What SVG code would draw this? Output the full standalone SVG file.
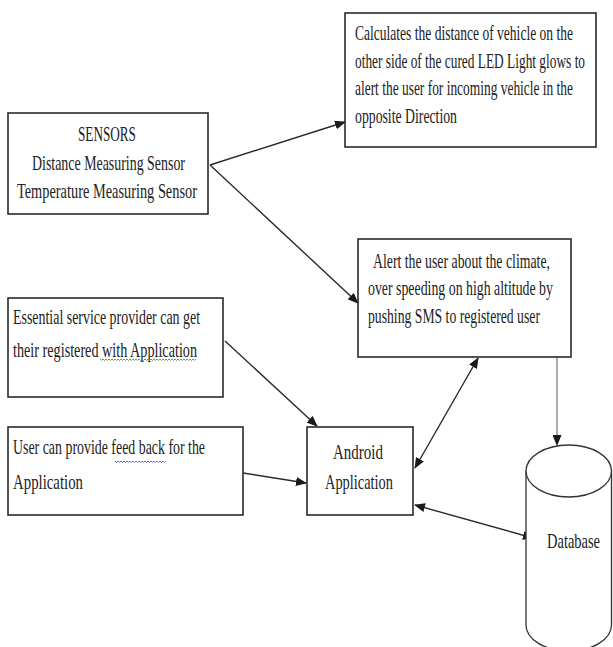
<svg xmlns="http://www.w3.org/2000/svg" width="613" height="647" viewBox="0 0 613 647">
<style>
.box{fill:#fff;stroke:#2a2a2a;stroke-width:1.6}
.t{font-family:"Liberation Serif","Times New Roman",serif;font-size:20px;fill:#222}
.c{fill:none;stroke:#2a2a2a;stroke-width:1.4}
.g{fill:none;stroke:#777;stroke-width:1.2}
.cyl{fill:#fff;stroke:#333;stroke-width:1.3}
</style>
<defs>
<marker id="ah" markerUnits="userSpaceOnUse" markerWidth="11" markerHeight="9" refX="10" refY="4.5" orient="auto-start-reverse" viewBox="0 0 11 9">
<path d="M0,0 L11,4.5 L0,9 z" fill="#1a1a1a"/>
</marker>
</defs>
<rect width="613" height="647" fill="#fff"/>
<g id="connectors">
<line class="c" x1="210" y1="165" x2="345" y2="122" marker-end="url(#ah)"/>
<line class="c" x1="210" y1="165" x2="358" y2="303" marker-end="url(#ah)"/>
<line class="c" x1="225" y1="341" x2="317" y2="426" marker-end="url(#ah)"/>
<line class="c" x1="243" y1="473" x2="306" y2="483" marker-end="url(#ah)"/>
<line class="c" x1="415" y1="468" x2="478" y2="358" marker-start="url(#ah)" marker-end="url(#ah)"/>
<line class="c" x1="415" y1="505" x2="533" y2="538" marker-start="url(#ah)" marker-end="url(#ah)"/>
<line class="g" x1="557" y1="357" x2="557" y2="445" marker-end="url(#ah)"/>
</g>
<g id="node-led">
<rect class="box" x="345" y="13" width="251" height="134"/>
<text class="t" transform="scale(0.62,1)" x="572.6" y="40" textLength="351.6" lengthAdjust="spacingAndGlyphs">Calculates the distance of vehicle on the</text>
<text class="t" transform="scale(0.62,1)" x="572.6" y="68" textLength="371" lengthAdjust="spacingAndGlyphs">other side of the cured LED Light glows to</text>
<text class="t" transform="scale(0.62,1)" x="572.6" y="95" textLength="351.6" lengthAdjust="spacingAndGlyphs">alert the user for incoming vehicle in the</text>
<text class="t" transform="scale(0.62,1)" x="572.6" y="123" textLength="164.5" lengthAdjust="spacingAndGlyphs">opposite Direction</text>
</g>
<g id="node-sensors">
<rect class="box" x="8" y="113" width="200" height="101"/>
<text class="t" transform="scale(0.62,1)" x="125.8" y="141" textLength="93.5" lengthAdjust="spacingAndGlyphs">SENSORS</text>
<text class="t" transform="scale(0.62,1)" x="51.6" y="170" textLength="246.8" lengthAdjust="spacingAndGlyphs">Distance Measuring Sensor</text>
<text class="t" transform="scale(0.62,1)" x="27.4" y="198" textLength="290.3" lengthAdjust="spacingAndGlyphs">Temperature Measuring Sensor</text>
</g>
<g id="node-alert">
<rect class="box" x="358" y="239" width="213" height="118"/>
<text class="t" transform="scale(0.62,1)" x="601.6" y="268" textLength="285.5" lengthAdjust="spacingAndGlyphs">Alert the user about the climate,</text>
<text class="t" transform="scale(0.62,1)" x="593.5" y="295" textLength="298.4" lengthAdjust="spacingAndGlyphs">over speeding on high altitude by</text>
<text class="t" transform="scale(0.62,1)" x="593.5" y="323" textLength="277.4" lengthAdjust="spacingAndGlyphs">pushing SMS to registered user</text>
</g>
<g id="node-essential">
<rect class="box" x="8" y="298" width="215" height="99"/>
<text class="t" transform="scale(0.62,1)" x="21" y="324" textLength="301.6" lengthAdjust="spacingAndGlyphs">Essential service provider can get</text>
<text class="t" transform="scale(0.62,1)" x="21" y="357" textLength="296.8" lengthAdjust="spacingAndGlyphs">their registered with  Application</text>
<path d="M100,359 l1.5,1.5 l1.5,-1.5 l1.5,1.5 l1.5,-1.5 l1.5,1.5 l1.5,-1.5 l1.5,1.5 l1.5,-1.5 l1.5,1.5 l1.5,-1.5 l1.5,1.5 l1.5,-1.5 l1.5,1.5 l1.5,-1.5 l1.5,1.5 l1.5,-1.5 l1.5,1.5 l1.5,-1.5 l1.5,1.5 l1.5,-1.5 l1.5,1.5 l1.5,-1.5 l1.5,1.5 l1.5,-1.5 l1.5,1.5 l1.5,-1.5 l1.5,1.5 l1.5,-1.5 l1.5,1.5 l1.5,-1.5 l1.5,1.5 l1.5,-1.5 l1.5,1.5 l1.5,-1.5 l1.5,1.5 l1.5,-1.5 l1.5,1.5 l1.5,-1.5 l1.5,1.5 l1.5,-1.5 l1.5,1.5 l1.5,-1.5 l1.5,1.5 l1.5,-1.5 l1.5,1.5 l1.5,-1.5 l1.5,1.5 l1.5,-1.5 l1.5,1.5 l1.5,-1.5 l1.5,1.5 l1.5,-1.5 l1.5,1.5 l1.5,-1.5 l1.5,1.5 l1.5,-1.5 l1.5,1.5 l1.5,-1.5 l1.5,1.5 l1.5,-1.5 l1.5,1.5 l1.5,-1.5 l1.5,1.5 l1.5,-1.5" fill="none" stroke="#4a9a4a" stroke-width="0.9"/>
</g>
<g id="node-feedback">
<rect class="box" x="8" y="427" width="235" height="88"/>
<text class="t" transform="scale(0.62,1)" x="21" y="454" textLength="309.7" lengthAdjust="spacingAndGlyphs">User can provide feed back for the</text>
<text class="t" transform="scale(0.62,1)" x="21" y="489" textLength="112.9" lengthAdjust="spacingAndGlyphs">Application</text>
<path d="M115,461 l1.5,1.5 l1.5,-1.5 l1.5,1.5 l1.5,-1.5 l1.5,1.5 l1.5,-1.5 l1.5,1.5 l1.5,-1.5 l1.5,1.5 l1.5,-1.5 l1.5,1.5 l1.5,-1.5 l1.5,1.5 l1.5,-1.5 l1.5,1.5 l1.5,-1.5 l1.5,1.5 l1.5,-1.5 l1.5,1.5 l1.5,-1.5 l1.5,1.5 l1.5,-1.5 l1.5,1.5 l1.5,-1.5 l1.5,1.5 l1.5,-1.5 l1.5,1.5 l1.5,-1.5 l1.5,1.5 l1.5,-1.5 l1.5,1.5 l1.5,-1.5 l1.5,1.5 l1.5,-1.5" fill="none" stroke="#5a5ad0" stroke-width="0.9"/>
</g>
<g id="node-android">
<rect class="box" x="307" y="427" width="106" height="88"/>
<text class="t" transform="scale(0.62,1)" x="537.1" y="459" textLength="80.6" lengthAdjust="spacingAndGlyphs">Android</text>
<text class="t" transform="scale(0.62,1)" x="524.2" y="489" textLength="109.7" lengthAdjust="spacingAndGlyphs">Application</text>
</g>
<g id="node-database">
<path class="cyl" d="M526,471 L526,625 A42.75,26 0 0 0 611.5,625 L611.5,471"/>
<ellipse class="cyl" cx="568.75" cy="471" rx="42.75" ry="26"/>
<text class="t" transform="scale(0.62,1)" x="882.3" y="548" textLength="85.5" lengthAdjust="spacingAndGlyphs">Database</text>
</g>
</svg>
